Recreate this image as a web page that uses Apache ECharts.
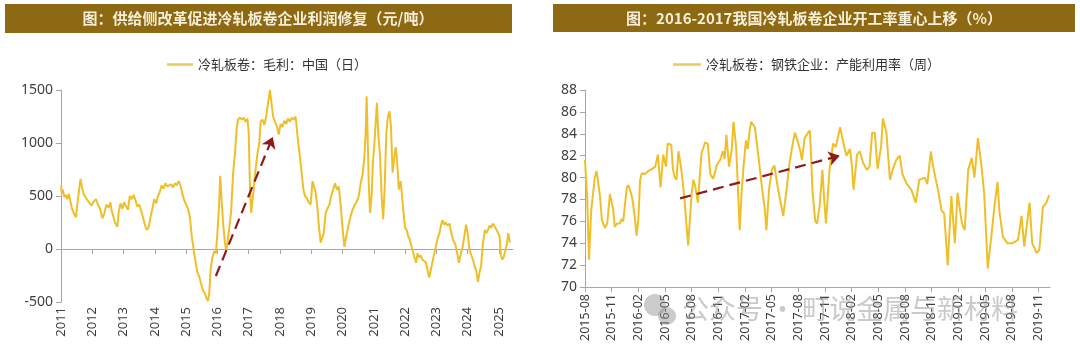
<!DOCTYPE html>
<html><head><meta charset="utf-8">
<script src="https://cdn.jsdelivr.net/npm/echarts@6/dist/echarts.min.js"></script>
<style>html,body{margin:0;padding:0;background:#fff}#c{width:1080px;height:355px}</style>
</head><body><div id="c"></div><script>
// ---------- data ----------
var leftTitle = '图：供给侧改革促进冷轧板卷企业利润修复（元/吨）';
var rightTitle = '图：2016-2017我国冷轧板卷企业开工率重心上移（%）';
var leftSeriesName = '冷轧板卷：毛利：中国（日）';
var rightSeriesName = '冷轧板卷：钢铁企业：产能利用率（周）';
var watermarkText = '公众号 · 町说金属与新材料';

var yearTicks = [2011,2012,2013,2014,2015,2016,2017,2018,2019,2020,2021,2022,2023,2024,2025];
var profitX = [2011.00,2011.03,2011.06,2011.10,2011.15,2011.20,2011.25,2011.30,2011.35,2011.42,2011.48,2011.52,2011.58,2011.62,2011.66,2011.72,2011.78,2011.85,2011.92,2011.98,
2012.05,2012.12,2012.18,2012.25,2012.32,2012.38,2012.45,2012.52,2012.58,2012.62,2012.68,2012.74,2012.80,2012.85,2012.90,2012.96,
2013.02,2013.08,2013.14,2013.20,2013.26,2013.32,2013.38,2013.44,2013.50,2013.56,2013.62,2013.68,2013.74,2013.80,2013.86,2013.92,2013.98,
2014.04,2014.10,2014.16,2014.22,2014.28,2014.34,2014.40,2014.46,2014.52,2014.58,2014.64,2014.70,2014.76,2014.82,2014.88,2014.94,
2015.00,2015.06,2015.12,2015.18,2015.24,2015.30,2015.36,2015.42,2015.48,2015.54,2015.60,2015.66,2015.70,2015.74,2015.78,2015.84,2015.90,2015.95,
2016.00,2016.05,2016.09,2016.13,2016.18,2016.24,2016.28,2016.33,2016.38,2016.44,2016.50,2016.56,2016.62,2016.66,2016.72,2016.78,2016.84,2016.90,2016.96,
2017.00,2017.04,2017.08,2017.14,2017.20,2017.28,2017.34,2017.38,2017.44,2017.50,2017.56,2017.62,2017.68,2017.72,2017.78,2017.84,2017.90,2017.96,
2018.02,2018.08,2018.14,2018.20,2018.26,2018.32,2018.38,2018.44,2018.50,2018.55,2018.60,2018.65,2018.70,2018.75,2018.80,2018.86,2018.92,2018.98,
2019.04,2019.08,2019.14,2019.20,2019.25,2019.30,2019.35,2019.40,2019.46,2019.52,2019.58,2019.64,2019.70,2019.76,2019.82,2019.88,2019.94,
2020.00,2020.06,2020.12,2020.18,2020.25,2020.32,2020.40,2020.46,2020.52,2020.58,2020.64,2020.70,2020.74,2020.77,2020.80,2020.84,2020.88,2020.93,2020.97,
2021.02,2021.06,2021.10,2021.14,2021.20,2021.25,2021.30,2021.35,2021.40,2021.45,2021.50,2021.55,2021.60,2021.65,2021.70,2021.74,2021.80,2021.86,2021.90,2021.95,
2022.00,2022.05,2022.10,2022.15,2022.20,2022.25,2022.30,2022.35,2022.40,2022.45,2022.50,2022.55,2022.60,2022.67,2022.72,2022.77,2022.82,2022.87,2022.92,2022.98,
2023.04,2023.10,2023.16,2023.20,2023.25,2023.30,2023.36,2023.42,2023.48,2023.54,2023.60,2023.66,2023.72,2023.78,2023.84,2023.90,2023.95,
2024.00,2024.06,2024.12,2024.17,2024.22,2024.27,2024.33,2024.38,2024.43,2024.48,2024.55,2024.60,2024.65,2024.70,2024.75,2024.80,2024.85,2024.90,2024.96,
2025.02,2025.06,2025.10,2025.15,2025.20,2025.25,2025.30,2025.35];
var profitY = [600,520,560,490,510,470,520,450,380,330,300,420,560,660,600,520,490,460,430,410,
450,470,420,380,290,330,420,390,440,360,300,240,210,360,430,380,
440,400,370,500,470,510,460,400,420,360,300,230,180,200,300,380,470,
430,500,540,600,570,620,590,600,610,580,620,600,640,600,520,460,
420,380,300,120,0,-120,-220,-260,-330,-390,-420,-470,-490,-420,-200,-80,-20,-40,
150,400,690,480,250,60,-20,80,200,360,700,900,1150,1220,1240,1220,1240,1200,1230,
1100,600,340,500,700,900,1000,1200,1220,1170,1250,1380,1500,1400,1250,1200,1160,1080,
1180,1150,1210,1180,1230,1200,1240,1220,1250,1100,960,840,700,560,500,480,440,420,
640,600,530,380,200,60,50,150,340,380,420,500,560,620,560,590,420,
200,20,120,210,300,370,420,450,500,620,700,870,1100,1440,1100,600,340,500,810,
1000,1190,1380,1100,870,500,280,600,1090,1250,1300,1150,720,850,960,850,560,640,650,340,
200,180,120,90,30,20,-80,-130,-40,-80,-60,-100,-90,-130,-200,-270,-200,-130,-60,20,
100,150,240,270,230,250,220,240,150,80,50,-30,-130,-50,20,130,230,
150,-10,-60,-100,-160,-200,-310,-220,-160,30,180,150,180,220,200,240,220,230,160,
120,-50,-100,-80,-70,40,150,60];
var leftArrowX = [2015.95, 2017.77];
var leftArrowY = [-255, 1057];

var monthTicks = [0,3,6,9,12,15,18,21,24,27,30,33,36,39,42,45,48,51];
var monthLabels = ['2015-08','2015-11','2016-02','2016-05','2016-08','2016-11','2017-02','2017-05','2017-08','2017-11','2018-02','2018-05','2018-08','2018-11','2019-02','2019-05','2019-08','2019-11'];
var rateX = [0,0.25,0.45,0.7,1.1,1.3,1.7,1.9,2.25,2.5,2.8,3.15,3.35,3.6,3.9,4.1,4.3,4.7,4.9,5.3,5.6,5.8,6.0,6.2,6.4,6.7,7.0,7.3,7.6,7.9,8.2,8.5,8.8,9.1,9.3,9.5,9.7,9.9,10.1,10.3,10.5,10.7,10.9,11.2,11.6,12.0,12.2,12.4,12.7,13.1,13.5,13.8,14.1,14.4,14.6,14.8,15.2,15.5,15.7,15.9,16.2,16.5,16.7,17.0,17.2,17.4,17.6,17.8,18.1,18.3,18.5,18.7,18.9,19.1,19.5,19.9,20.2,20.4,20.7,21.0,21.3,21.7,22.1,22.3,22.7,23.0,23.3,23.6,23.9,24.2,24.4,24.7,25.1,25.3,25.6,25.9,26.1,26.4,26.7,26.9,27.1,27.5,27.9,28.2,28.7,29.0,29.4,29.8,30.0,30.2,30.6,30.9,31.3,31.7,32.0,32.3,32.6,32.9,33.3,33.5,33.9,34.3,34.6,35.0,35.4,35.7,36.2,36.7,37.2,37.6,38.2,38.5,38.9,39.1,39.4,39.7,40.1,40.4,40.8,41.2,41.6,41.9,42.4,42.7,43.1,43.5,43.8,44.2,44.6,44.9,45.3,45.7,46.1,46.4,46.6,47.0,47.5,48.1,48.7,49.1,49.4,50.0,50.3,50.8,51.1,51.5,51.9,52.2];
var rateY = [81.6,78,72.5,77,80.0,80.6,78.2,76.1,75.4,75.8,78.5,77.2,75.5,75.8,75.8,76.2,76.0,79.1,79.3,78.2,76.4,74.7,76.2,79.8,80.4,80.3,80.5,80.7,80.8,81.0,82.1,79.1,82.1,81.0,83.1,83.0,83.0,80.7,80.0,79.8,82.4,81.5,80.3,77.9,73.8,78.6,79.8,79.2,77.7,82.2,83.2,83.1,80.3,79.9,80.4,81.1,81.6,82.4,81.7,83.9,81.0,82.5,85.1,82.8,79,75.2,78.5,80.7,83.4,82.6,84.2,85.1,85.0,84.6,82.0,79.1,77.3,75.2,78.9,80.7,81.1,79.0,77.3,76.5,79.1,81.3,82.8,84.1,83.4,82.5,81.6,83.6,84.1,84.3,78.6,76.0,75.8,77.5,80.7,78.0,75.8,80.7,83.1,82.8,84.6,83.4,82.0,82.6,81.3,78.9,82.1,82.4,81.3,80.7,81.0,84.1,84.1,80.8,82.8,85.4,84.1,79.8,80.7,81.6,82.0,80.3,79.4,78.9,77.7,79.8,80.0,79.4,82.4,81.3,80.0,78.9,77.0,76.7,72.0,78.3,74.0,78.6,75.8,75.2,80.7,81.8,80.0,83.6,81.0,78.5,71.7,74.6,77.7,79.6,77.0,74.6,74.0,74.0,74.3,76.5,73.7,77.7,74.0,73.1,73.4,77.3,77.7,78.4];
var rightArrowX = [10.7, 28.65];
var rightArrowY = [78.1, 82.0];

// ---------- build ----------
function pairs(xs, ys){ return xs.map(function(x,i){ return [x, ys[i]]; }); }
var LINE = '#EFBF2A', LEGLINE = '#E9CB5A', ARROW = '#8E1B1B', AXIS = '#A6A6A6', TXT = '#404040', BAR = '#8C6912';
var NUMFONT = 'Noto Sans, Noto Sans CJK SC, sans-serif';
var CJK = 'Noto Sans CJK SC, sans-serif';

var chart = echarts.init(document.getElementById('c'), null, {renderer:'canvas'});
var arrowLine = function(xs, ys){
  return {
    silent: true, symbol: ['none','arrow'], symbolSize: [11, 11],
    label: {show:false},
    lineStyle: {color: ARROW, width: 2.2, type: [11, 6]},
    data: [[{coord:[xs[0], ys[0]]},{coord:[xs[1], ys[1]]}]]
  };
};
var plainNum = function(v){ return String(v); };
chart.setOption({
  animation: false,
  backgroundColor: '#fff',
  graphic: [
    {type:'rect', shape:{x:5,y:4,width:507,height:29}, style:{fill:BAR}},
    {type:'text', x:258, y:18.5, style:{text:leftTitle, fill:'#F6EED8', font:'bold 15px '+CJK, align:'center', verticalAlign:'middle'}},
    {type:'rect', shape:{x:553,y:4,width:522,height:28}, style:{fill:BAR}},
    {type:'text', x:814, y:18, style:{text:rightTitle, fill:'#F6EED8', font:'bold 15px '+CJK, align:'center', verticalAlign:'middle'}},
    {type:'circle', z:100, shape:{cx:655,cy:305,r:11}, style:{fill:'rgba(140,140,140,0.45)'}},
    {type:'circle', z:100, shape:{cx:667,cy:316,r:9}, style:{fill:'rgba(140,140,140,0.45)'}},
    {type:'text', z:100, x:682, y:309, style:{text:watermarkText, fill:'rgba(150,150,150,0.5)', font:'27px '+CJK, verticalAlign:'middle'}}
  ],
  legend: [
    {data:[leftSeriesName], left:162, top:53, icon:'rect', itemWidth:26, itemHeight:2.5, itemGap:4,
     itemStyle:{color:LEGLINE}, textStyle:{fontSize:13, color:'#333', fontFamily:CJK}},
    {data:[rightSeriesName], left:668, top:53, icon:'rect', itemWidth:28, itemHeight:2.5, itemGap:4,
     itemStyle:{color:LEGLINE}, textStyle:{fontSize:13, color:'#333', fontFamily:CJK}}
  ],
  grid: [
    {left:61, top:90, width:452, height:212, containLabel:false},
    {left:585, top:90, width:465, height:197, containLabel:false}
  ],
  xAxis: [
    {type:'value', gridIndex:0, min:2011, max:2025.45,
     axisLine:{show:true, onZero:true, lineStyle:{color:AXIS, width:1}},
     axisTick:{show:true, length:5, customValues:yearTicks, lineStyle:{color:AXIS}},
     axisLabel:{show:false}, splitLine:{show:false}},
    {type:'value', gridIndex:0, min:2011, max:2025.45, position:'bottom',
     axisLine:{show:false, onZero:false}, axisTick:{show:false}, splitLine:{show:false},
     axisLabel:{show:true, rotate:90, margin:5, customValues:yearTicks, fontSize:13, color:TXT, fontFamily:NUMFONT,
       formatter:function(v){ return String(Math.round(v)); }}},
    {type:'value', gridIndex:1, min:0, max:52.3,
     axisLine:{show:true, onZero:false, lineStyle:{color:AXIS, width:1}},
     axisTick:{show:true, length:5, customValues:monthTicks, lineStyle:{color:AXIS}},
     splitLine:{show:false},
     axisLabel:{show:true, rotate:90, margin:7, customValues:monthTicks, fontSize:12.5, color:TXT, fontFamily:NUMFONT,
       formatter:function(v){ return monthLabels[Math.round(v/3)] || ''; }}}
  ],
  yAxis: [
    {type:'value', gridIndex:0, min:-500, max:1500, interval:500,
     axisLine:{show:true, lineStyle:{color:AXIS}}, axisTick:{show:true, length:5, lineStyle:{color:AXIS}},
     splitLine:{show:false}, axisLabel:{fontSize:14, color:TXT, fontFamily:NUMFONT, margin:8, formatter:plainNum}},
    {type:'value', gridIndex:1, min:70, max:88, interval:2,
     axisLine:{show:true, lineStyle:{color:AXIS}}, axisTick:{show:true, length:5, lineStyle:{color:AXIS}},
     splitLine:{show:false}, axisLabel:{fontSize:14, color:TXT, fontFamily:NUMFONT, margin:8, formatter:plainNum}}
  ],
  series: [
    {name:leftSeriesName, type:'line', xAxisIndex:0, yAxisIndex:0, data:pairs(profitX, profitY),
     symbol:'none', lineStyle:{color:LINE, width:2}, itemStyle:{color:LINE},
     markLine: arrowLine(leftArrowX, leftArrowY)},
    {name:rightSeriesName, type:'line', xAxisIndex:2, yAxisIndex:1, data:pairs(rateX, rateY),
     symbol:'none', lineStyle:{color:LINE, width:2}, itemStyle:{color:LINE},
     markLine: arrowLine(rightArrowX, rightArrowY)}
  ]
});
</script></body></html>
